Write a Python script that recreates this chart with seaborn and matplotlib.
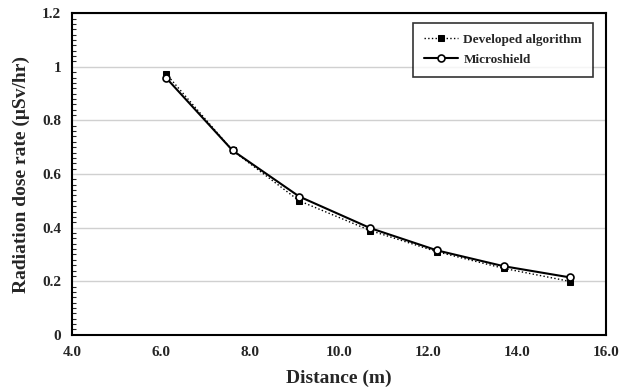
import numpy as np
import pandas as pd
import matplotlib
matplotlib.use("Agg")
import matplotlib.pyplot as plt
import seaborn as sns
from matplotlib.ticker import MultipleLocator, FuncFormatter

# values
distance = [6.1, 7.6, 9.1, 10.7, 12.2, 13.7, 15.2]
developed = [0.975, 0.688, 0.500, 0.389, 0.310, 0.248, 0.199]
microshield = [0.960, 0.688, 0.516, 0.398, 0.315, 0.256, 0.214]
x_ticks = [4.0, 6.0, 8.0, 10.0, 12.0, 14.0, 16.0]
y_ticks = [0, 0.2, 0.4, 0.6, 0.8, 1.0, 1.2]

df = pd.DataFrame({
    "Distance": distance * 2,
    "Rate": developed + microshield,
    "Series": ["Developed algorithm"] * len(distance) + ["Microshield"] * len(distance),
})

sns.set_theme(style="white")
plt.rcParams['font.family'] = ['Liberation Serif', 'DejaVu Serif']
plt.rcParams['font.weight'] = 'bold'

fig, ax = plt.subplots(figsize=(6.3, 3.88), dpi=100)
fig.subplots_adjust(left=0.115, right=0.962, top=0.966, bottom=0.137)

sns.lineplot(data=df[df.Series == "Developed algorithm"], x="Distance", y="Rate",
             ax=ax, color="black", linestyle=":", linewidth=1.0,
             marker="s", markersize=4.5, markerfacecolor="black",
             markeredgecolor="black", label="Developed algorithm")
sns.lineplot(data=df[df.Series == "Microshield"], x="Distance", y="Rate",
             ax=ax, color="black", linestyle="-", linewidth=1.5,
             marker="o", markersize=5, markerfacecolor="white",
             markeredgecolor="black", markeredgewidth=1.2, label="Microshield")

ax.set_xlim(4.0, 16.0)
ax.set_ylim(0, 1.2)
ax.set_xticks(x_ticks)
ax.set_yticks(y_ticks)
ax.xaxis.set_major_formatter(FuncFormatter(lambda v, p: f"{v:.1f}"))
ax.yaxis.set_major_formatter(FuncFormatter(lambda v, p: f"{v:g}"))
ax.yaxis.set_minor_locator(MultipleLocator(0.02))
ax.tick_params(axis="x", length=0, labelsize=11, pad=8)
ax.tick_params(axis="y", which="major", direction="in", length=5, width=1, labelsize=11, pad=8)
ax.tick_params(axis="y", which="minor", direction="in", length=3, width=0.8, left=True)
ax.yaxis.grid(True, color="#d0d0d0", linewidth=1)
ax.xaxis.grid(False)
for s in ax.spines.values():
    s.set_color("black")
    s.set_linewidth(1.5)

ax.set_xlabel("Distance (m)", fontsize=14, fontweight="bold", labelpad=8)
ax.set_ylabel("Radiation dose rate (μSv/hr)", fontsize=14, fontweight="bold", labelpad=9)

leg = ax.legend(loc="upper right", bbox_to_anchor=(0.987, 0.99), fancybox=False,
                edgecolor="black", handlelength=2.6, handletextpad=0.4, borderpad=0.8,
                labelspacing=0.6, prop={"weight": "bold", "size": 9.5})
leg.get_frame().set_linewidth(1.2)

fig.savefig("out.png", dpi=100)
